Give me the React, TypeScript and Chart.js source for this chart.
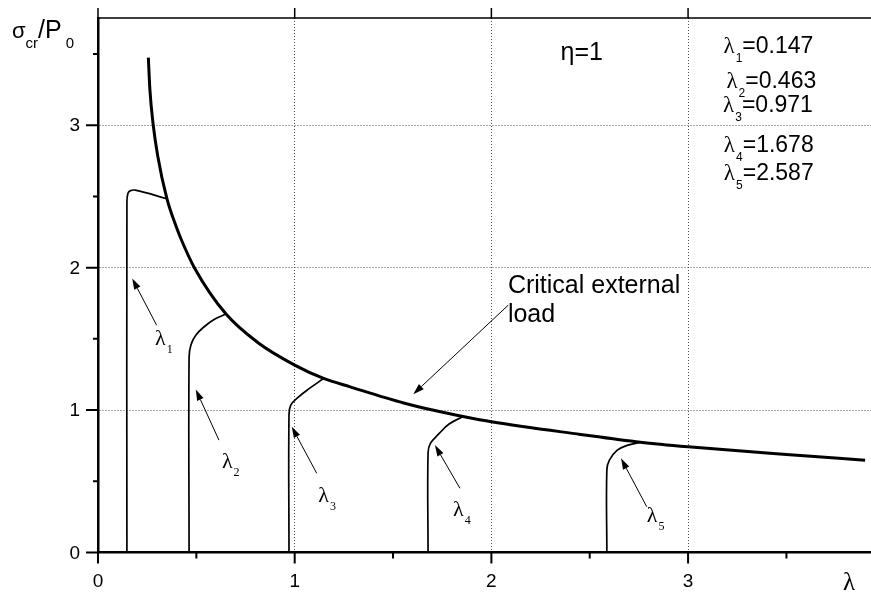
import React, { useEffect, useRef } from 'react';
import { Chart, registerables } from 'chart.js';

Chart.register(...registerables);

// ---------- data ----------
const lambdaValues = [0.147, 0.463, 0.971, 1.678, 2.587];
const lambdaSubs = ['1', '2', '3', '4', '5'];

const criticalX = [0.256, 0.264, 0.281, 0.303, 0.35, 0.397, 0.421, 0.49, 0.651, 0.812, 1.0, 1.147, 1.282, 1.554, 1.724, 1.856, 2.0, 2.453, 2.758, 3.0, 3.5, 3.9];
const criticalY = [3.475, 3.246, 3.0, 2.79, 2.486, 2.29, 2.205, 2.0, 1.674, 1.475, 1.316, 1.222, 1.163, 1.05, 0.993, 0.955, 0.918, 0.829, 0.774, 0.742, 0.688, 0.648];

const branch1X = [0.147, 0.147, 0.152, 0.163, 0.19, 0.35];
const branch1Y = [0, 2.46, 2.52, 2.539, 2.544, 2.484];
const branch2X = [0.463, 0.463, 0.472, 0.497, 0.54, 0.59, 0.651];
const branch2Y = [0, 1.37, 1.456, 1.526, 1.585, 1.636, 1.674];
const branch3X = [0.971, 0.971, 0.98, 1.02, 1.075, 1.147];
const branch3Y = [0, 0.96, 1.035, 1.093, 1.152, 1.222];
const branch4X = [1.678, 1.678, 1.69, 1.735, 1.785, 1.856];
const branch4Y = [0, 0.7, 0.766, 0.836, 0.902, 0.955];
const branch5X = [2.587, 2.587, 2.6, 2.64, 2.69, 2.758];
const branch5Y = [0, 0.58, 0.649, 0.719, 0.752, 0.774];

const xMin = 0;
const xMax = 3.93;
const yMin = 0;
const yMax = 3.753;
const xMajorTicks = [0, 1, 2, 3];
const xMinorTicks = [0.5, 1.5, 2.5, 3.5];
const yMajorTicks = [0, 1, 2, 3];
const yMinorTicks = [0.5, 1.5, 2.5, 3.5];
const yTickLabels = ['0', '1', '2', '3'];

const etaText = 'η=1';
const criticalText = ['Critical external', 'load'];

// annotation anchors in data units
const listLeftX = [3.18, 3.195, 3.178, 3.182, 3.182];
const listBaseY = [3.507, 3.265, 3.093, 2.813, 2.614];
const arrowTail = [[0.298, 1.596], [0.615, 0.789], [1.112, 0.556], [1.84, 0.451], [2.79, 0.321]];
const arrowTip = [[0.174, 1.924], [0.497, 1.145], [0.985, 0.883], [1.713, 0.754], [2.659, 0.661]];
const labelPos = [[0.29, 1.456], [0.63, 0.593], [1.12, 0.356], [1.805, 0.256], [2.79, 0.216]];
const critArrowTail = [2.086, 1.737];
const critArrowTip = [1.603, 1.112];
const critTextPos = [2.084, 1.821, 1.62];
const etaPos = [2.567, 3.456];

const SANS = '"Liberation Sans", Arial, sans-serif';
const SERIF = '"Liberation Serif", "Times New Roman", serif';

function toPts(xs: number[], ys: number[]) {
  return xs.map((x, i) => ({ x, y: ys[i] }));
}

function drawArrow(ctx: CanvasRenderingContext2D, x1: number, y1: number, x2: number, y2: number) {
  const ang = Math.atan2(y2 - y1, x2 - x1);
  const L = 11, W = 3.5;
  const bx = x2 - L * Math.cos(ang), by = y2 - L * Math.sin(ang);
  ctx.lineWidth = 1;
  ctx.beginPath();
  ctx.moveTo(x1, y1);
  ctx.lineTo(bx, by);
  ctx.stroke();
  ctx.beginPath();
  ctx.moveTo(x2, y2);
  ctx.lineTo(bx + W * Math.sin(ang), by - W * Math.cos(ang));
  ctx.lineTo(bx - W * Math.sin(ang), by + W * Math.cos(ang));
  ctx.closePath();
  ctx.fill();
}

const overlayPlugin = {
  id: 'overlay',
  afterDraw(chart: any) {
    const { ctx, chartArea } = chart;
    const xs = chart.scales.x, ys = chart.scales.y;
    const X = (v: number) => xs.getPixelForValue(v);
    const Y = (v: number) => ys.getPixelForValue(v);
    const { left, right, top, bottom } = chartArea;
    ctx.save();
    ctx.strokeStyle = '#000';
    ctx.fillStyle = '#000';
    ctx.lineCap = 'butt';

    // bottom ticks
    ctx.lineWidth = 2;
    ctx.beginPath();
    xMajorTicks.forEach((v) => { ctx.moveTo(X(v), bottom); ctx.lineTo(X(v), bottom + 11); });
    xMinorTicks.forEach((v) => { ctx.moveTo(X(v), bottom); ctx.lineTo(X(v), bottom + 6); });
    // left ticks
    yMajorTicks.forEach((v) => { ctx.moveTo(left, Y(v)); ctx.lineTo(left - 12, Y(v)); });
    yMinorTicks.forEach((v) => { ctx.moveTo(left, Y(v)); ctx.lineTo(left - 5, Y(v)); });
    ctx.stroke();

    // y tick labels
    ctx.font = `19px ${SANS}`;
    ctx.textAlign = 'right';
    ctx.textBaseline = 'middle';
    yMajorTicks.forEach((v, i) => ctx.fillText(yTickLabels[i], left - 18, Y(v) + 1));

    // top line with ticks
    ctx.lineWidth = 1.5;
    ctx.beginPath();
    ctx.moveTo(left - 1, top);
    ctx.lineTo(right, top);
    xMajorTicks.forEach((v) => { ctx.moveTo(X(v), top); ctx.lineTo(X(v), top - 10); });
    ctx.stroke();

    ctx.textAlign = 'left';
    ctx.textBaseline = 'alphabetic';

    // y axis title σcr/P0
    let tx = left - 86;
    const tb = top + 20;
    ctx.font = `22px ${SANS}`;
    ctx.fillText('σ', tx, tb);
    tx += ctx.measureText('σ').width;
    ctx.font = `15px ${SANS}`;
    ctx.fillText('cr', tx, tb + 10);
    tx += ctx.measureText('cr').width;
    ctx.font = `25px ${SANS}`;
    ctx.fillText('/P', tx, tb);
    tx += ctx.measureText('/P').width + 4;
    ctx.font = `15px ${SANS}`;
    ctx.fillText('0', tx, tb + 10);

    // x axis title λ
    ctx.font = `25px ${SERIF}`;
    ctx.fillText('λ', right - 28, bottom + 37);

    // eta
    ctx.font = `25px ${SANS}`;
    ctx.textAlign = 'right';
    ctx.fillText(etaText, X(etaPos[0]), Y(etaPos[1]));
    ctx.textAlign = 'left';

    // lambda list
    lambdaValues.forEach((v, i) => {
      let x = X(listLeftX[i]);
      const b = Y(listBaseY[i]);
      ctx.font = `23px ${SERIF}`;
      ctx.fillText('λ', x, b);
      x += ctx.measureText('λ').width + 1;
      ctx.font = `12px ${SANS}`;
      ctx.fillText(lambdaSubs[i], x, b + 9);
      x += ctx.measureText(lambdaSubs[i]).width;
      ctx.font = `23px ${SANS}`;
      ctx.fillText('=' + v.toFixed(3), x, b);
    });

    // critical external load
    ctx.font = `25px ${SANS}`;
    ctx.fillText(criticalText[0], X(critTextPos[0]), Y(critTextPos[1]));
    ctx.fillText(criticalText[1], X(critTextPos[0]), Y(critTextPos[2]));
    drawArrow(ctx, X(critArrowTail[0]), Y(critArrowTail[1]), X(critArrowTip[0]), Y(critArrowTip[1]));

    // branch arrows + labels
    lambdaValues.forEach((_, i) => {
      drawArrow(ctx, X(arrowTail[i][0]), Y(arrowTail[i][1]), X(arrowTip[i][0]), Y(arrowTip[i][1]));
      let x = X(labelPos[i][0]);
      const b = Y(labelPos[i][1]);
      ctx.font = `22px ${SERIF}`;
      ctx.fillText('λ', x, b);
      x += ctx.measureText('λ').width + 1;
      ctx.font = `12px ${SERIF}`;
      ctx.fillText(lambdaSubs[i], x, b + 8);
    });

    ctx.restore();
  },
};

export default function App() {
  const ref = useRef<HTMLCanvasElement | null>(null);

  useEffect(() => {
    if (!ref.current) return;
    const branch = (xs: number[], ys: number[]) => ({
      data: toPts(xs, ys),
      showLine: true,
      borderColor: '#000',
      borderWidth: 1.7,
      pointRadius: 0,
      tension: 0.4,
      fill: false,
    });
    const chart = new Chart(ref.current, {
      type: 'scatter',
      data: {
        datasets: [
          {
            data: toPts(criticalX, criticalY),
            showLine: true,
            borderColor: '#000',
            borderWidth: 3,
            pointRadius: 0,
            cubicInterpolationMode: 'monotone',
            fill: false,
          } as any,
          branch(branch1X, branch1Y),
          branch(branch2X, branch2Y),
          branch(branch3X, branch3Y),
          branch(branch4X, branch4Y),
          branch(branch5X, branch5Y),
        ],
      },
      options: {
        responsive: false,
        animation: false,
        layout: { autoPadding: false, padding: { top: 18, left: 0, right: 0, bottom: 0 } },
        plugins: { legend: { display: false }, tooltip: { enabled: false } },
        scales: {
          x: {
            type: 'linear',
            min: xMin,
            max: xMax,
            ticks: {
              stepSize: 1,
              includeBounds: false,
              autoSkip: false,
              maxRotation: 0,
              color: '#000',
              padding: 18,
              font: { family: SANS, size: 19 },
              callback: (v: any) => (Number.isInteger(v) ? String(v) : ''),
            },
            grid: {
              drawTicks: false,
              lineWidth: 1,
              color: (c: any) => (c.tick && c.tick.value === 0 ? 'rgba(0,0,0,0)' : 'rgba(50,50,50,0.85)'),
            },
            border: { display: true, color: '#000', width: 2.5, dash: [1, 2] },
            afterFit: (s: any) => { s.height = 42.5; s.paddingLeft = 0; s.paddingRight = 0; },
          },
          y: {
            type: 'linear',
            min: yMin,
            max: yMax,
            ticks: {
              stepSize: 1,
              includeBounds: false,
              autoSkip: false,
              display: false,
            },
            grid: {
              drawTicks: false,
              lineWidth: 1,
              color: (c: any) => (c.tick && c.tick.value === 0 ? 'rgba(0,0,0,0)' : 'rgba(50,50,50,0.85)'),
            },
            border: { display: true, color: '#000', width: 2.5, dash: [1, 2] },
            afterFit: (s: any) => { s.width = 98; s.paddingTop = 0; s.paddingBottom = 0; },
          },
        },
      } as any,
      plugins: [overlayPlugin],
    });
    return () => chart.destroy();
  }, []);

  return (
    <div style={{ position: 'absolute', left: 0, top: 0, width: 871, height: 595, background: '#fff' }}>
      <canvas ref={ref} width={871} height={595} style={{ display: 'block' }} />
    </div>
  );
}
